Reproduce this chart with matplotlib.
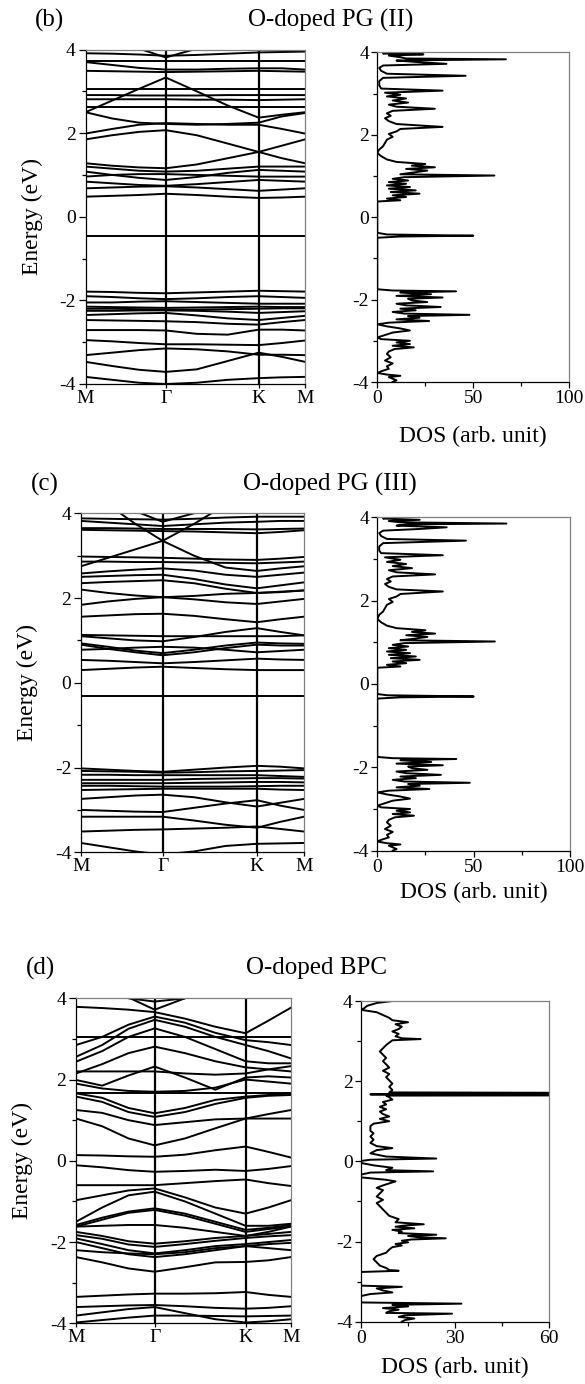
import matplotlib
matplotlib.use("Agg")
import matplotlib.pyplot as plt
from matplotlib.ticker import MultipleLocator

plt.rcParams['font.family'] = ['Liberation Serif', 'DejaVu Serif']
plt.rcParams['axes.unicode_minus'] = False

# ---------------- k-path ----------------
k_labels = ['M', 'Γ', 'K', 'M']
k_nodes = [0.0, 0.577, 1.244, 1.577]
k_grid = [0.0, 0.192, 0.385, 0.577, 0.799, 1.022, 1.244, 1.411, 1.577]

# ---------------- panel (b): O-doped PG (II) ----------------
bands_b = [
    [3.91, 3.90, 3.88, 3.85, 3.87, 3.90, 3.93, 3.94, 3.95],
    [4.50, 4.30, 4.02, 3.81, 4.02, 4.30, 4.50, 4.50, 4.50],
    [3.72, 3.72, 3.72, 3.72, 3.72, 3.72, 3.72, 3.72, 3.72],
    [3.70, 3.63, 3.56, 3.52, 3.52, 3.54, 3.55, 3.55, 3.52],
    [3.49, 3.48, 3.47, 3.46, 3.47, 3.48, 3.49, 3.48, 3.47],
    [2.50, 2.78, 3.06, 3.33, 3.00, 2.66, 2.37, 2.44, 2.50],
    [3.05, 3.05, 3.05, 3.05, 3.05, 3.05, 3.05, 3.05, 3.05],
    [2.91, 2.91, 2.90, 2.90, 2.90, 2.91, 2.91, 2.91, 2.91],
    [2.81, 2.81, 2.81, 2.81, 2.80, 2.80, 2.79, 2.80, 2.81],
    [2.63, 2.63, 2.63, 2.63, 2.63, 2.63, 2.63, 2.63, 2.63],
    [2.50, 2.35, 2.25, 2.22, 2.20, 2.22, 2.25, 2.40, 2.48],
    [1.99, 2.10, 2.20, 2.24, 2.22, 2.20, 2.20, 2.10, 1.99],
    [1.85, 1.95, 2.03, 2.07, 1.95, 1.75, 1.55, 1.70, 1.85],
    [1.28, 1.22, 1.18, 1.16, 1.25, 1.40, 1.55, 1.40, 1.28],
    [1.20, 1.15, 1.10, 1.08, 1.10, 1.15, 1.20, 1.20, 1.20],
    [1.08, 1.00, 0.93, 0.88, 0.95, 1.05, 1.12, 1.10, 1.08],
    [0.96, 1.00, 1.02, 1.02, 1.00, 0.98, 0.96, 0.96, 0.96],
    [0.84, 0.80, 0.76, 0.74, 0.78, 0.83, 0.88, 0.86, 0.84],
    [0.68, 0.70, 0.72, 0.73, 0.70, 0.66, 0.62, 0.65, 0.68],
    [0.48, 0.50, 0.52, 0.55, 0.52, 0.48, 0.45, 0.46, 0.48],
    [-0.45, -0.45, -0.45, -0.45, -0.45, -0.45, -0.45, -0.45, -0.45],
    [-1.79, -1.80, -1.82, -1.83, -1.81, -1.79, -1.77, -1.78, -1.79],
    [-1.90, -1.92, -1.95, -1.97, -1.95, -1.92, -1.90, -1.92, -1.94],
    [-2.05, -2.05, -2.03, -2.02, -2.04, -2.06, -2.08, -2.08, -2.08],
    [-2.15, -2.16, -2.17, -2.18, -2.17, -2.16, -2.15, -2.16, -2.16],
    [-2.20, -2.20, -2.21, -2.22, -2.22, -2.21, -2.20, -2.19, -2.19],
    [-2.25, -2.25, -2.24, -2.24, -2.25, -2.27, -2.30, -2.28, -2.26],
    [-2.35, -2.33, -2.31, -2.30, -2.36, -2.43, -2.47, -2.42, -2.37],
    [-2.47, -2.48, -2.49, -2.50, -2.52, -2.56, -2.58, -2.52, -2.47],
    [-2.71, -2.71, -2.71, -2.72, -2.80, -2.82, -2.70, -2.70, -2.72],
    [-2.95, -2.98, -3.02, -3.05, -3.05, -3.06, -3.07, -3.02, -2.96],
    [-3.31, -3.25, -3.19, -3.15, -3.17, -3.22, -3.30, -3.30, -3.31],
    [-3.47, -3.57, -3.66, -3.71, -3.65, -3.45, -3.25, -3.35, -3.47],
    [-3.83, -3.90, -3.97, -4.00, -3.97, -3.90, -3.86, -3.84, -3.83],
]

dos_b_energy = [4.0, 3.97, 3.95, 3.92, 3.88, 3.85, 3.83, 3.80, 3.76, 3.72, 3.68, 3.62,
                3.55, 3.48, 3.43, 3.38, 3.30, 3.20, 3.12, 3.07, 3.02, 2.97, 2.93, 2.88,
                2.83, 2.78, 2.73, 2.68, 2.63, 2.58, 2.52, 2.46, 2.40, 2.33, 2.26, 2.19,
                2.14, 2.08, 2.02, 1.95, 1.88, 1.80, 1.72, 1.64, 1.56, 1.48, 1.40, 1.34,
                1.29, 1.25, 1.21, 1.17, 1.13, 1.08, 1.04, 1.01, 0.97, 0.93, 0.89, 0.85,
                0.81, 0.77, 0.73, 0.69, 0.65, 0.61, 0.57, 0.53, 0.49, 0.45, 0.41, 0.38,
                0.35, -0.38, -0.42, -0.45, -0.47, -0.50, -1.75, -1.78, -1.80, -1.83,
                -1.87, -1.91, -1.95, -1.98, -2.02, -2.06, -2.10, -2.14, -2.18, -2.22,
                -2.26, -2.30, -2.34, -2.37, -2.40, -2.44, -2.48, -2.52, -2.56, -2.60,
                -2.65, -2.70, -2.75, -2.80, -2.86, -2.92, -2.96, -3.00, -3.04, -3.08,
                -3.12, -3.16, -3.20, -3.26, -3.32, -3.40, -3.48, -3.55, -3.62, -3.68,
                -3.74, -3.78, -3.82, -3.85, -3.88, -3.92, -3.96, -4.0]
dos_b_value = [5, 3, 24, 6, 12, 15, 67, 10, 22, 36, 3, 1,
               2, 5, 46, 3, 1, 1, 2, 34, 4, 12, 5, 15,
               8, 16, 6, 10, 30, 8, 5, 7, 4, 6, 10, 34,
               12, 10, 6, 8, 5, 4, 3, 1, 0, 2, 5, 10,
               25, 18, 30, 15, 26, 18, 12, 61, 14, 8, 16, 6,
               15, 5, 17, 6, 20, 7, 22, 8, 15, 5, 12, 0,
               0, 0, 5, 50, 12, 0, 0, 8, 41, 12,
               28, 10, 34, 16, 18, 26, 10, 15, 33, 12,
               20, 8, 14, 48, 16, 22, 10, 27, 6, 0,
               5, 12, 17, 8, 4, 0, 2, 17, 10, 17,
               8, 19, 9, 6, 5, 7, 4, 8, 5, 6,
               2, 0, 5, 12, 6, 8, 10, 8]

# ---------------- panel (c): O-doped PG (III) ----------------
bands_c = [
    [3.88, 3.87, 3.86, 3.85, 3.87, 3.90, 3.92, 3.92, 3.92],
    [4.50, 4.30, 4.05, 3.80, 4.00, 4.30, 4.50, 4.50, 4.50],
    [3.82, 3.78, 3.74, 3.70, 3.74, 3.78, 3.80, 3.82, 3.82],
    [3.65, 3.65, 3.64, 3.63, 3.63, 3.63, 3.62, 3.63, 3.64],
    [3.61, 3.60, 3.59, 3.58, 3.57, 3.55, 3.53, 3.56, 3.60],
    [2.75, 2.95, 3.15, 3.35, 3.75, 4.20, 4.50, 4.50, 4.50],
    [4.50, 4.20, 3.75, 3.35, 3.00, 2.72, 2.64, 2.70, 2.75],
    [2.98, 2.97, 2.96, 2.95, 2.93, 2.91, 2.90, 2.93, 2.97],
    [2.86, 2.86, 2.85, 2.85, 2.84, 2.83, 2.82, 2.84, 2.86],
    [2.58, 2.63, 2.67, 2.70, 2.65, 2.55, 2.50, 2.55, 2.60],
    [2.50, 2.52, 2.54, 2.55, 2.45, 2.32, 2.23, 2.30, 2.37],
    [2.35, 2.38, 2.40, 2.42, 2.35, 2.22, 2.12, 2.15, 2.18],
    [2.20, 2.12, 2.06, 2.02, 2.05, 2.10, 2.12, 2.14, 2.18],
    [1.84, 1.92, 1.98, 2.02, 1.97, 1.90, 1.86, 1.92, 1.98],
    [1.56, 1.59, 1.62, 1.63, 1.58, 1.50, 1.43, 1.50, 1.56],
    [1.10, 1.05, 1.00, 0.98, 1.08, 1.20, 1.29, 1.20, 1.12],
    [1.13, 1.12, 1.11, 1.10, 1.10, 1.10, 1.10, 1.10, 1.12],
    [0.93, 0.85, 0.76, 0.70, 0.78, 0.88, 0.95, 0.93, 0.92],
    [0.90, 0.80, 0.72, 0.65, 0.72, 0.82, 0.90, 0.88, 0.88],
    [0.78, 0.80, 0.83, 0.85, 0.83, 0.78, 0.72, 0.75, 0.78],
    [0.54, 0.52, 0.49, 0.46, 0.49, 0.53, 0.57, 0.55, 0.54],
    [0.30, 0.33, 0.36, 0.38, 0.35, 0.32, 0.30, 0.30, 0.30],
    [-0.30, -0.30, -0.30, -0.30, -0.30, -0.30, -0.30, -0.30, -0.30],
    [-2.02, -2.05, -2.08, -2.10, -2.05, -2.00, -1.96, -1.98, -2.02],
    [-2.08, -2.09, -2.10, -2.12, -2.11, -2.09, -2.08, -2.07, -2.06],
    [-2.17, -2.17, -2.18, -2.18, -2.18, -2.18, -2.18, -2.20, -2.22],
    [-2.29, -2.29, -2.29, -2.29, -2.27, -2.26, -2.25, -2.25, -2.26],
    [-2.37, -2.37, -2.37, -2.37, -2.36, -2.35, -2.34, -2.34, -2.35],
    [-2.43, -2.43, -2.44, -2.45, -2.45, -2.45, -2.44, -2.43, -2.43],
    [-2.53, -2.52, -2.51, -2.50, -2.50, -2.50, -2.50, -2.52, -2.53],
    [-2.74, -2.70, -2.66, -2.64, -2.70, -2.82, -2.92, -2.83, -2.74],
    [-3.00, -3.02, -3.04, -3.05, -2.95, -2.85, -2.77, -2.90, -3.00],
    [-3.16, -3.16, -3.16, -3.16, -3.25, -3.35, -3.42, -3.28, -3.16],
    [-3.51, -3.49, -3.47, -3.46, -3.44, -3.42, -3.39, -3.45, -3.51],
    [-3.78, -3.88, -3.98, -4.05, -3.98, -3.85, -3.80, -3.79, -3.78],
]

dos_c_energy = [4.0, 3.97, 3.94, 3.91, 3.88, 3.85, 3.83, 3.80, 3.76, 3.72, 3.68, 3.62,
                3.55, 3.48, 3.44, 3.38, 3.30, 3.20, 3.14, 3.09, 3.04, 2.98, 2.93, 2.88,
                2.83, 2.78, 2.73, 2.68, 2.63, 2.58, 2.52, 2.46, 2.40, 2.33, 2.27, 2.22,
                2.16, 2.10, 2.04, 1.97, 1.90, 1.82, 1.74, 1.66, 1.56, 1.48, 1.40, 1.34,
                1.29, 1.25, 1.21, 1.17, 1.13, 1.08, 1.05, 1.02, 0.98, 0.94, 0.90, 0.86,
                0.82, 0.78, 0.74, 0.70, 0.66, 0.62, 0.58, 0.54, 0.50, 0.46, 0.42, 0.39,
                0.36, -0.24, -0.27, -0.30, -0.32, -0.35, -1.75, -1.78, -1.80, -1.83,
                -1.87, -1.91, -1.95, -1.98, -2.02, -2.06, -2.10, -2.14, -2.18, -2.22,
                -2.26, -2.30, -2.34, -2.37, -2.40, -2.44, -2.48, -2.52, -2.56, -2.60,
                -2.65, -2.70, -2.75, -2.80, -2.86, -2.92, -2.96, -3.00, -3.04, -3.08,
                -3.12, -3.16, -3.20, -3.26, -3.32, -3.40, -3.48, -3.55, -3.62, -3.68,
                -3.74, -3.78, -3.82, -3.85, -3.88, -3.92, -3.96, -4.0]
dos_c_value = [5, 3, 22, 6, 12, 67, 15, 10, 36, 22, 3, 1,
               2, 5, 46, 3, 1, 1, 2, 34, 4, 12, 5, 15,
               8, 18, 6, 10, 30, 8, 5, 7, 4, 6, 10, 34,
               12, 10, 6, 8, 5, 4, 3, 1, 0, 2, 5, 10,
               25, 18, 30, 15, 26, 18, 12, 61, 14, 8, 16, 6,
               15, 5, 17, 6, 20, 7, 22, 8, 15, 5, 12, 0,
               0, 0, 5, 50, 12, 0, 0, 8, 41, 12,
               28, 10, 34, 16, 18, 26, 10, 15, 33, 12,
               20, 8, 14, 48, 16, 22, 10, 27, 6, 0,
               5, 12, 17, 8, 4, 0, 2, 17, 10, 17,
               8, 19, 9, 6, 5, 7, 4, 8, 5, 6,
               2, 0, 5, 12, 6, 8, 10, 8]

# ---------------- panel (d): O-doped BPC ----------------
bands_d = [
    [4.50, 4.20, 4.00, 3.92, 4.00, 4.30, 4.50, 4.50, 4.50],
    [4.50, 4.30, 4.02, 3.72, 4.00, 4.30, 4.50, 4.50, 4.50],
    [3.79, 3.76, 3.72, 3.66, 3.50, 3.30, 3.14, 3.45, 3.77],
    [3.05, 3.05, 3.05, 3.05, 3.05, 3.05, 3.05, 3.05, 3.05],
    [2.85, 3.05, 3.35, 3.55, 3.40, 3.15, 2.97, 2.92, 2.85],
    [2.56, 2.85, 3.25, 3.47, 3.30, 3.05, 2.85, 2.70, 2.52],
    [2.44, 2.70, 3.05, 3.26, 3.05, 2.75, 2.45, 2.40, 2.40],
    [2.15, 2.38, 2.65, 2.81, 2.65, 2.45, 2.30, 2.25, 2.20],
    [1.99, 1.85, 2.10, 2.32, 2.05, 1.75, 2.05, 2.08, 2.05],
    [1.90, 1.78, 1.72, 1.70, 1.72, 1.80, 2.00, 1.95, 1.90],
    [2.20, 2.20, 2.20, 2.20, 2.15, 2.12, 2.15, 2.25, 2.33],
    [1.66, 1.66, 1.66, 1.66, 1.66, 1.66, 1.66, 1.66, 1.66],
    [1.66, 1.55, 1.30, 1.17, 1.30, 1.50, 1.58, 1.62, 1.66],
    [1.58, 1.45, 1.20, 1.08, 1.20, 1.40, 1.55, 1.60, 1.62],
    [1.25, 1.18, 1.00, 0.88, 0.95, 1.02, 1.04, 1.15, 1.25],
    [1.04, 0.85, 0.55, 0.38, 0.55, 0.80, 1.04, 1.04, 1.04],
    [0.14, 0.13, 0.11, 0.10, 0.15, 0.26, 0.35, 0.22, 0.08],
    [-0.11, -0.16, -0.23, -0.27, -0.25, -0.22, -0.25, -0.20, -0.13],
    [-0.60, -0.60, -0.60, -0.60, -0.55, -0.50, -0.46, -0.55, -0.62],
    [-0.97, -0.85, -0.73, -0.68, -0.90, -1.15, -1.30, -1.15, -0.97],
    [-1.50, -1.15, -0.85, -0.76, -1.00, -1.30, -1.60, -1.60, -1.55],
    [-1.58, -1.40, -1.25, -1.17, -1.30, -1.50, -1.70, -1.65, -1.58],
    [-1.62, -1.45, -1.28, -1.21, -1.35, -1.55, -1.75, -1.68, -1.62],
    [-1.62, -1.60, -1.58, -1.58, -1.65, -1.75, -1.85, -1.75, -1.62],
    [-1.75, -1.85, -1.98, -2.04, -1.98, -1.90, -1.85, -1.80, -1.75],
    [-1.83, -1.92, -2.06, -2.12, -2.05, -1.97, -1.90, -1.86, -1.83],
    [-1.91, -2.05, -2.20, -2.28, -2.20, -2.10, -2.05, -2.00, -1.95],
    [-2.00, -2.15, -2.30, -2.37, -2.30, -2.20, -2.10, -2.05, -2.02],
    [-2.20, -2.25, -2.28, -2.30, -2.25, -2.15, -2.10, -2.15, -2.20],
    [-2.37, -2.50, -2.65, -2.73, -2.62, -2.50, -2.49, -2.45, -2.37],
    [-3.35, -3.32, -3.29, -3.27, -3.27, -3.26, -3.23, -3.30, -3.35],
    [-3.60, -3.58, -3.56, -3.55, -3.58, -3.62, -3.64, -3.62, -3.58],
    [-3.81, -3.73, -3.65, -3.60, -3.75, -3.90, -3.98, -3.95, -3.90],
    [-3.98, -3.92, -3.86, -3.81, -3.81, -3.82, -3.83, -3.82, -3.81],
]

dos_d_energy = [4.0, 3.95, 3.88, 3.82, 3.78, 3.72, 3.65, 3.58, 3.52, 3.47, 3.42, 3.36,
                3.30, 3.24, 3.18, 3.12, 3.07, 3.05, 3.02, 2.96, 2.90, 2.82, 2.74, 2.66,
                2.58, 2.50, 2.42, 2.34, 2.26, 2.18, 2.10, 2.02, 1.94, 1.86, 1.78, 1.72,
                1.685, 1.67, 1.655, 1.64, 1.60, 1.54, 1.48, 1.42, 1.36, 1.30, 1.24, 1.18,
                1.12, 1.06, 1.00, 0.94, 0.88, 0.82, 0.76, 0.70, 0.62, 0.54, 0.46, 0.38,
                0.33, 0.28, 0.20, 0.12, 0.07, 0.04, 0.01, -0.04, -0.10, -0.16, -0.22,
                -0.25, -0.28, -0.33, -0.40, -0.46, -0.50, -0.55, -0.60, -0.66, -0.72,
                -0.80, -0.88, -0.96, -1.04, -1.12, -1.20, -1.28, -1.36, -1.44, -1.52,
                -1.57, -1.60, -1.63, -1.67, -1.71, -1.75, -1.79, -1.83, -1.86, -1.89,
                -1.92, -1.95, -1.98, -2.02, -2.06, -2.10, -2.14, -2.20, -2.28, -2.36,
                -2.44, -2.52, -2.60, -2.66, -2.71, -2.73, -2.76, -3.10, -3.13, -3.17,
                -3.22, -3.27, -3.31, -3.36, -3.44, -3.52, -3.55, -3.58, -3.62, -3.66,
                -3.70, -3.74, -3.78, -3.80, -3.84, -3.88, -3.92, -3.96, -4.0]
dos_d_value = [10, 5, 2, 1, 0, 5, 7, 9, 10, 15, 11, 13,
               12, 10, 12, 11, 13, 19, 10, 9, 8, 7, 6, 7,
               8, 7, 8, 9, 7, 9, 8, 9, 10, 9, 10, 9,
               200, 3, 200, 8, 9, 10, 7, 8, 6, 8, 6, 7,
               9, 6, 9, 4, 3, 3, 3, 4, 3, 4, 3, 5,
               10, 5, 3, 8, 24, 3, 0, 0, 4, 10, 8,
               23, 3, 0, 0, 8, 11, 9, 7, 5, 7,
               6, 5, 7, 5, 6, 7, 8, 9, 12, 11,
               20, 14, 11, 17, 10, 13, 12, 24, 15, 18,
               27, 16, 13, 15, 11, 13, 10, 9, 8, 5,
               4, 5, 6, 8, 9, 12, 0, 0, 13, 5,
               7, 10, 3, 0, 0, 0, 32, 10, 15, 7,
               12, 9, 8, 29, 14, 12, 17, 14, 13]

# ---------------- figure ----------------
W, H = 585, 1384
fig = plt.figure(figsize=(W / 100, H / 100), dpi=100)


def rect(x0, y0, x1, y1):
    return [x0 / W, 1 - y1 / H, (x1 - x0) / W, (y1 - y0) / H]


def style_spines(ax):
    for s in ['left', 'bottom']:
        ax.spines[s].set_color('black')
        ax.spines[s].set_linewidth(0.9)
    for s in ['top', 'right']:
        ax.spines[s].set_color('#808080')
        ax.spines[s].set_linewidth(0.9)


def band_panel(r, bands, label_x):
    ax = fig.add_axes(r)
    for b in bands:
        ax.plot(k_grid, b, color='black', lw=1.4, solid_joinstyle='round')
    for kx in k_nodes[1:3]:
        ax.axvline(kx, color='black', lw=1.6)
    ax.set_xlim(k_nodes[0], k_nodes[-1])
    ax.set_ylim(-4, 4)
    ax.set_xticks(k_nodes)
    ax.set_xticklabels(k_labels)
    ax.yaxis.set_major_locator(MultipleLocator(2))
    ax.yaxis.set_minor_locator(MultipleLocator(1))
    ax.tick_params(axis='y', which='major', direction='out', length=5, width=0.9,
                   labelsize=14, pad=2)
    ax.tick_params(axis='y', which='minor', direction='out', length=3, width=0.9)
    ax.tick_params(axis='x', which='major', direction='out', length=3, width=0.9,
                   labelsize=14, pad=1)
    ax.set_ylabel('Energy (eV)', fontsize=17)
    ax.yaxis.set_label_coords(label_x, 0.5)
    style_spines(ax)
    return ax


def dos_panel(r, energy, dos, xmax, xstep, label_y):
    ax = fig.add_axes(r)
    ax.plot(dos, energy, color='black', lw=1.4, solid_joinstyle='round')
    ax.set_xlim(0, xmax)
    ax.set_ylim(-4, 4)
    ax.xaxis.set_major_locator(MultipleLocator(xstep))
    ax.xaxis.set_minor_locator(MultipleLocator(xstep / 2))
    ax.yaxis.set_major_locator(MultipleLocator(2))
    ax.yaxis.set_minor_locator(MultipleLocator(1))
    ax.tick_params(which='major', direction='out', length=4, width=0.9,
                   labelsize=14, pad=2)
    ax.tick_params(which='minor', direction='out', length=3, width=0.9)
    ax.set_xlabel('DOS (arb. unit)', fontsize=17)
    ax.xaxis.set_label_coords(0.5, label_y)
    style_spines(ax)
    return ax


# (b)
band_panel(rect(85.5, 49.5, 305, 384), bands_b, -0.194)
dos_panel(rect(377.3, 52.3, 569.3, 382), dos_b_energy, dos_b_value, 100, 50, -0.133)
fig.text(50 / W, 1 - 20 / H, '(b)', ha='center', va='center', fontsize=18)
fig.text(331 / W, 1 - 20 / H, 'O-doped PG (II)', ha='center', va='center', fontsize=18)

# (c)
band_panel(rect(81, 513.3, 304, 852.3), bands_c, -0.193)
dos_panel(rect(377.3, 517.3, 570, 850.7), dos_c_energy, dos_c_value, 100, 50, -0.094)
fig.text(45 / W, 1 - 484 / H, '(c)', ha='center', va='center', fontsize=18)
fig.text(330 / W, 1 - 484 / H, 'O-doped PG (III)', ha='center', va='center', fontsize=18)

# (d)
band_panel(rect(76, 998.3, 291, 1323.3), bands_d, -0.200)
dos_panel(rect(361, 1001, 549.3, 1321.7), dos_d_energy, dos_d_value, 60, 30, -0.110)
fig.text(40 / W, 1 - 968 / H, '(d)', ha='center', va='center', fontsize=18)
fig.text(316 / W, 1 - 968 / H, 'O-doped BPC', ha='center', va='center', fontsize=18)

fig.savefig('out.png', dpi=100, facecolor='white')
